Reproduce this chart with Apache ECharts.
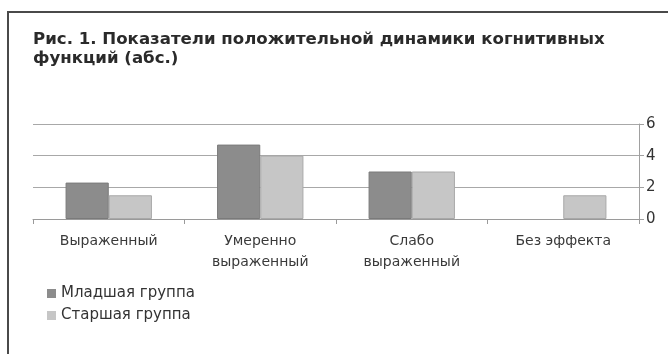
<!DOCTYPE html>
<html>
<head>
<meta charset="utf-8">
<script src="https://cdn.jsdelivr.net/npm/echarts@6/dist/echarts.min.js"></script>
<style>
  html, body { margin: 0; padding: 0; background: #fff; }
  #chart { width: 668px; height: 354px; }
</style>
</head>
<body>
<div id="chart"></div>
<script>
// Positive dynamics of cognitive functions, absolute counts
const categories = ['Выраженный', 'Умеренно\nвыраженный', 'Слабо\nвыраженный', 'Без эффекта'];
const seriesNames = ['Младшая группа', 'Старшая группа'];
const youngerGroup = [2.3, 4.7, 3.0, 0];
const olderGroup = [1.5, 4.0, 3.0, 1.5];
const yTicks = { min: 0, max: 6, interval: 2 };

const chart = echarts.init(document.getElementById('chart'), null, { renderer: 'canvas' });

const textFont = '"DejaVu Sans", Verdana, sans-serif';

// zero-height bars get no outline so they leave no stray line on the axis
function barData(values) {
  return values.map(v => (v === 0 ? { value: v, itemStyle: { borderWidth: 0 } } : v));
}

chart.setOption({
  backgroundColor: '#ffffff',
  animation: false,
  title: {
    text: 'Рис. 1. Показатели положительной динамики когнитивных\nфункций (абс.)',
    left: 28,
    top: 25,
    textStyle: {
      fontFamily: textFont,
      fontSize: 16.6,
      fontWeight: 'bold',
      color: '#2a2a2a',
      lineHeight: 19
    }
  },
  legend: {
    orient: 'vertical',
    left: 42,
    top: 281,
    itemWidth: 9,
    itemHeight: 9,
    itemGap: 7,
    icon: 'rect',
    data: seriesNames,
    itemStyle: { borderWidth: 0 },
    textStyle: {
      fontFamily: textFont,
      fontSize: 15,
      color: '#333',
      padding: [0, 0, 0, 0]
    }
  },
  grid: {
    left: 33,
    right: 29,
    top: 124,
    bottom: 135,
    containLabel: false
  },
  xAxis: {
    type: 'category',
    data: categories,
    axisLine: { show: true, lineStyle: { color: '#9a9a9a', width: 1 } },
    axisTick: { show: true, alignWithLabel: false, length: 5, lineStyle: { color: '#9a9a9a' } },
    axisLabel: {
      fontFamily: textFont,
      fontSize: 14,
      color: '#3a3a3a',
      lineHeight: 21,
      margin: 12
    }
  },
  yAxis: {
    type: 'value',
    position: 'right',
    min: yTicks.min,
    max: yTicks.max,
    interval: yTicks.interval,
    axisLine: { show: true, lineStyle: { color: '#a0a0a0', width: 1 } },
    axisTick: { show: true, length: 5, lineStyle: { color: '#a0a0a0' } },
    axisLabel: {
      fontFamily: textFont,
      fontSize: 15,
      color: '#333',
      margin: 7
    },
    splitLine: { show: true, lineStyle: { color: '#a8a8a8', width: 1 } }
  },
  series: [
    {
      name: seriesNames[0],
      type: 'bar',
      data: barData(youngerGroup),
      barGap: '0%',
      barCategoryGap: '43%',
      itemStyle: { color: '#8c8c8c', borderColor: '#7a7a7a', borderWidth: 1 }
    },
    {
      name: seriesNames[1],
      type: 'bar',
      data: barData(olderGroup),
      barGap: '0%',
      barCategoryGap: '43%',
      itemStyle: { color: '#c6c6c6', borderColor: '#a8a8a8', borderWidth: 1 }
    }
  ],
  graphic: [
    {
      type: 'polyline',
      silent: true,
      shape: { points: [[8, 354], [8, 12], [668, 12]] },
      style: { stroke: '#4a4a4a', lineWidth: 2, fill: null }
    }
  ]
});
</script>
</body>
</html>
